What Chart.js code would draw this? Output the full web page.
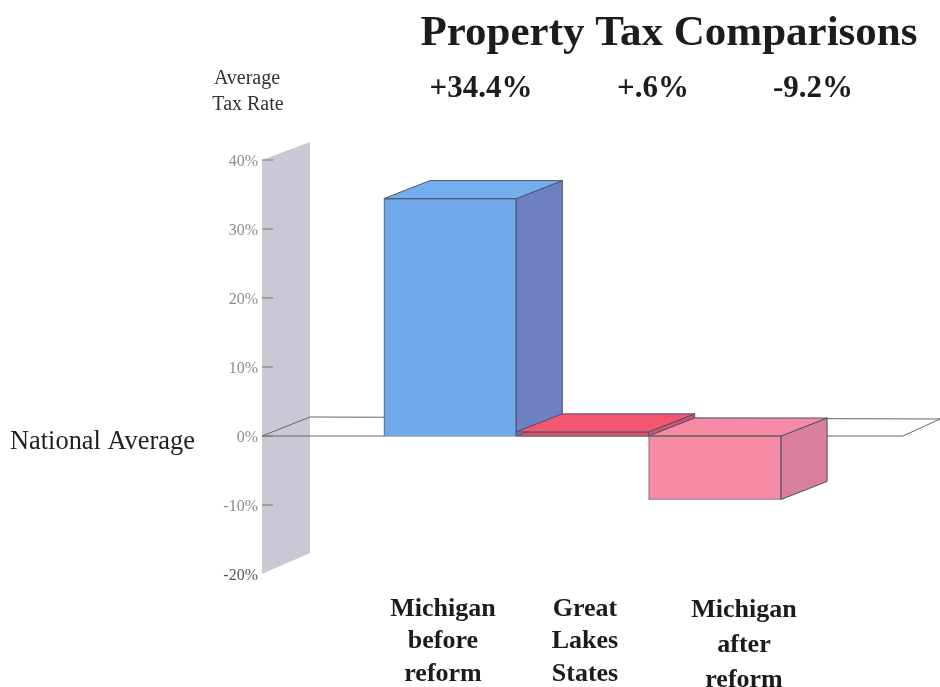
<!DOCTYPE html>
<html>
<head>
<meta charset="utf-8">
<title>Property Tax Comparisons</title>
<script src="https://cdn.jsdelivr.net/npm/chart.js@4"></script>
<style>
    body { margin: 0; background: #fff; }
    canvas { display: block; }
</style>
</head>
<body>
<canvas id="taxChart" width="940" height="687"></canvas>
<script>
// Empty slots either side leave room for the wall and the floor
const categories = ["", "Michigan before reform", "Great Lakes States", "Michigan after reform", ""];
const taxRates = [null, 34.4, 0.6, -9.2, null];
const rateLabels = ["", "+34.4%", "+.6%", "-9.2%", ""];
const categoryLines = [[], ["Michigan", "before", "reform"], ["Great", "Lakes", "States"], ["Michigan", "after", "reform"], []];

const frontColors = ["#000", "#6fa9ea", "#e8506a", "#f68ba6", "#000"];
const sideColors = ["#000", "#6d80c2", "#d8506c", "#d97f9c", "#000"];
const topColors = ["#000", "#74aeee", "#f5566f", "#f78ba6", "#000"];
const rateLabelX = [0, 481, 653, 813, 0];
const categoryLabelX = [0, 443, 585, 744, 0];
const categoryLabelY = [0, 609, 609, 610, 0];
const categoryLineGap = [0, 32.5, 32.5, 35, 0];

const serif = '"Liberation Serif", serif';
const depthX = 46;
const depthY = 18;
const wallX = 262;
const wallDepth = 48;

function poly(ctx, points, fill, stroke) {
    ctx.beginPath();
    points.forEach((p, i) => i ? ctx.lineTo(p[0], p[1]) : ctx.moveTo(p[0], p[1]));
    ctx.closePath();
    if (fill) {
        ctx.fillStyle = fill;
        ctx.fill();
    }
    if (stroke) {
        ctx.strokeStyle = stroke;
        ctx.lineWidth = 1;
        ctx.stroke();
    }
}

function text(ctx, str, x, y, font, color, align) {
    ctx.font = font;
    ctx.fillStyle = color;
    ctx.textAlign = align || "center";
    ctx.textBaseline = "middle";
    ctx.fillText(str, x, y);
}

// Wall, floor and the axis ticks behind the bars
const backdrop = {
    id: "backdrop",
    beforeDatasetsDraw(chart) {
        const ctx = chart.ctx;
        const y = chart.scales.y;
        const top = y.getPixelForValue(40);
        const bottom = y.getPixelForValue(-20);
        const zero = y.getPixelForValue(0);
        ctx.save();
        poly(ctx, [[wallX, top], [wallX + wallDepth, top - depthY], [wallX + wallDepth, bottom - 21], [wallX, bottom]], "#cbc8d5");
        poly(ctx, [[wallX, zero], [wallX + wallDepth, zero - 19], [940, zero - 17], [903, zero]], null, "#666");
        y.ticks.forEach(t => {
            const py = y.getPixelForValue(t.value);
            if (t.value !== -20) {
                ctx.strokeStyle = "#777";
                ctx.beginPath();
                ctx.moveTo(wallX, py);
                ctx.lineTo(wallX + 11, py);
                ctx.stroke();
            }
            // the scale clips its own labels at the chart area, and these sit past it
            text(ctx, t.label, wallX - 4, py + 2, "16px " + serif, t.value === -20 ? "#555" : "#8c8c8c", "right");
        });
        ctx.restore();
    }
};

// Side and top faces of each bar, plus all the loose text
const faces = {
    id: "faces",
    afterDatasetsDraw(chart) {
        const ctx = chart.ctx;
        const y = chart.scales.y;
        const zero = y.getPixelForValue(0);
        const bars = chart.getDatasetMeta(0).data;
        ctx.save();
        taxRates.forEach((rate, i) => {
            if (rate === null) return;
            const half = bars[i].width / 2;
            const l = bars[i].x - half;
            const r = bars[i].x + half;
            const hi = Math.min(y.getPixelForValue(rate), zero);
            const lo = Math.max(y.getPixelForValue(rate), zero);
            poly(ctx, [[r, hi], [r + depthX, hi - depthY], [r + depthX, lo - depthY], [r, lo]], sideColors[i], "#4d5068");
            poly(ctx, [[l, hi], [l + depthX, hi - depthY], [r + depthX, hi - depthY], [r, hi]], topColors[i], "#4d5068");
        });
        ctx.strokeStyle = "#666";
        ctx.beginPath();
        ctx.moveTo(517, zero);
        ctx.lineTo(781, zero);
        ctx.stroke();

        text(ctx, "Property Tax Comparisons", 669, 34, "bold 43px " + serif, "#1c1c1c");
        text(ctx, "Average", 247, 79, "20px " + serif, "#333");
        text(ctx, "Tax Rate", 248, 105, "20px " + serif, "#333");
        text(ctx, "National Average", 10, 442, "26.4px " + serif, "#222", "left");
        rateLabels.forEach((label, i) => {
            if (label) text(ctx, label, rateLabelX[i], 89, "bold 31px " + serif, "#1c1c1c");
        });
        categoryLines.forEach((lines, i) => {
            lines.forEach((line, n) => {
                text(ctx, line, categoryLabelX[i], categoryLabelY[i] + n * categoryLineGap[i], "bold 26px " + serif, "#1c1c1c");
            });
        });
        ctx.restore();
    }
};

new Chart(document.getElementById("taxChart"), {
    type: "bar",
    data: {
        labels: categories,
        datasets: [{
            data: taxRates,
            backgroundColor: frontColors,
            borderColor: "#55586e",
            borderWidth: 1,
            barPercentage: 1,
            categoryPercentage: 1
        }]
    },
    options: {
        responsive: false,
        animation: false,
        layout: { padding: { top: 160, bottom: 113, right: 26.5 } },
        plugins: {
            legend: { display: false },
            tooltip: { enabled: false }
        },
        scales: {
            x: { display: false },
            y: {
                min: -20,
                max: 40,
                border: { display: false },
                grid: { display: false, drawTicks: false },
                afterFit(scale) { scale.width = 251.5; },
                ticks: {
                    stepSize: 10,
                    display: false,
                    callback: v => v + "%"
                }
            }
        }
    },
    plugins: [backdrop, faces]
});
</script>
</body>
</html>
